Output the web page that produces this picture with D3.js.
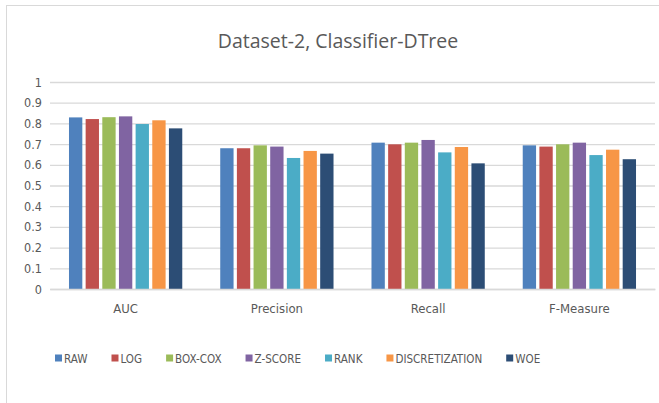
<!DOCTYPE html>
<html>
<head>
<meta charset="utf-8">
<script src="https://cdn.jsdelivr.net/npm/d3@7"></script>
<style>
  body { margin: 0; background: #fff; }
  svg text { fill: #595959; }
  .cond { font-family: "DejaVu Sans Condensed", "DejaVu Sans", sans-serif; font-stretch: condensed; }
</style>
</head>
<body>
<div id="chart"></div>
<script>
// data
const categories = ['AUC', 'Precision', 'Recall', 'F-Measure'];
const seriesNames = ['RAW', 'LOG', 'BOX-COX', 'Z-SCORE', 'RANK', 'DISCRETIZATION', 'WOE'];
const seriesColors = ['#4F81BD', '#C0504D', '#9BBB59', '#8064A2', '#4BACC6', '#F79646', '#2C4D75'];
const rawValues = [0.829, 0.680, 0.707, 0.694];
const logValues = [0.821, 0.680, 0.699, 0.688];
const boxcoxValues = [0.830, 0.694, 0.707, 0.699];
const zscoreValues = [0.834, 0.688, 0.720, 0.707];
const rankValues = [0.797, 0.633, 0.660, 0.647];
const discValues = [0.815, 0.667, 0.686, 0.673];
const woeValues = [0.776, 0.654, 0.607, 0.627];
const yTicks = [0, 0.1, 0.2, 0.3, 0.4, 0.5, 0.6, 0.7, 0.8, 0.9, 1];

const series = [rawValues, logValues, boxcoxValues, zscoreValues, rankValues, discValues, woeValues];

const W = 659, H = 403;
const margin = { left: 50, right: 4, top: 82, bottom: 114 };
const width = W - margin.left - margin.right;
const height = H - margin.top - margin.bottom;

const svg = d3.select('#chart')
    .append('svg')
    .attr('width', W)
    .attr('height', H);

// outer chart frame (cropped on right and bottom in the reference)
svg.append('rect')
    .attr('x', 6.5)
    .attr('y', 5.5)
    .attr('width', W + 20)
    .attr('height', H + 20)
    .attr('fill', 'none')
    .attr('stroke', '#d9d9d9');

svg.append('text')
    .attr('x', 338)
    .attr('y', 48)
    .attr('text-anchor', 'middle')
    .style('font-family', '"Open Sans", sans-serif')
    .style('font-size', '19.5px')
    .text('Dataset-2, Classifier-DTree');

const g = svg.append('g')
    .attr('transform', `translate(${margin.left}, ${margin.top})`);

const x0 = d3.scaleBand()
    .domain(categories)
    .range([0, width])
    .paddingInner(0.207)
    .paddingOuter(0.1035);

const x1 = d3.scaleBand()
    .domain(d3.range(seriesNames.length))
    .range([0, x0.bandwidth()])
    .padding(0.2);

const yScale = d3.scaleLinear()
    .domain([0, 1])
    .range([height, 0]);

// grid lines
g.append('g')
    .attr('class', 'grid')
    .call(d3.axisLeft(yScale)
        .tickValues(yTicks)
        .tickSize(-width)
        .tickFormat(''))
    .call(s => s.select('.domain').remove())
    .call(s => s.selectAll('line').attr('stroke', '#d9d9d9').attr('stroke-width', 1.3));

// y labels
g.append('g')
    .call(d3.axisLeft(yScale)
        .tickValues(yTicks)
        .tickSize(0)
        .tickPadding(8)
        .tickFormat(d => d === 0 ? '0' : d === 1 ? '1' : d3.format('.1f')(d)))
    .call(s => s.select('.domain').remove())
    .call(s => s.selectAll('text')
        .attr('class', 'cond')
        .attr('font-family', null)
        .style('font-size', '12.5px')
        .attr('fill', '#595959'));

// bars
const groups = g.selectAll('.cat')
    .data(categories)
    .enter()
    .append('g')
    .attr('class', 'cat')
    .attr('transform', d => `translate(${x0(d)}, 0)`);

groups.selectAll('rect')
    .data((c, ci) => series.map((s, si) => ({ si: si, v: s[ci] })))
    .enter()
    .append('rect')
    .attr('x', d => x1(d.si))
    .attr('y', d => yScale(d.v))
    .attr('width', x1.bandwidth())
    .attr('height', d => height - yScale(d.v))
    .attr('fill', d => seriesColors[d.si]);

// x axis
g.append('g')
    .attr('transform', `translate(0, ${height})`)
    .call(d3.axisBottom(x0).tickSize(0).tickPadding(15))
    .call(s => s.select('.domain').attr('stroke', '#d9d9d9').attr('stroke-width', 1.3))
    .call(s => s.selectAll('text')
        .attr('class', 'cond')
        .attr('font-family', null)
        .style('font-size', '13px')
        .attr('fill', '#595959'));

// legend
const legend = svg.append('g')
    .attr('transform', 'translate(55, 358)');
let lx = 0;
seriesNames.forEach((name, i) => {
    const item = legend.append('g').attr('transform', `translate(${lx}, 0)`);
    item.append('rect')
        .attr('x', 0)
        .attr('y', -3.5)
        .attr('width', 7)
        .attr('height', 7)
        .attr('fill', seriesColors[i]);
    const t = item.append('text')
        .attr('class', 'cond')
        .attr('x', 9)
        .attr('y', 5)
        .style('font-size', '13px')
        .text(name);
    // squeeze a bit to match the narrow legend font of the original
    const w = t.node().getComputedTextLength() * 0.888;
    t.attr('textLength', w).attr('lengthAdjust', 'spacingAndGlyphs');
    lx += 9 + w + 24;
});
</script>
</body>
</html>
